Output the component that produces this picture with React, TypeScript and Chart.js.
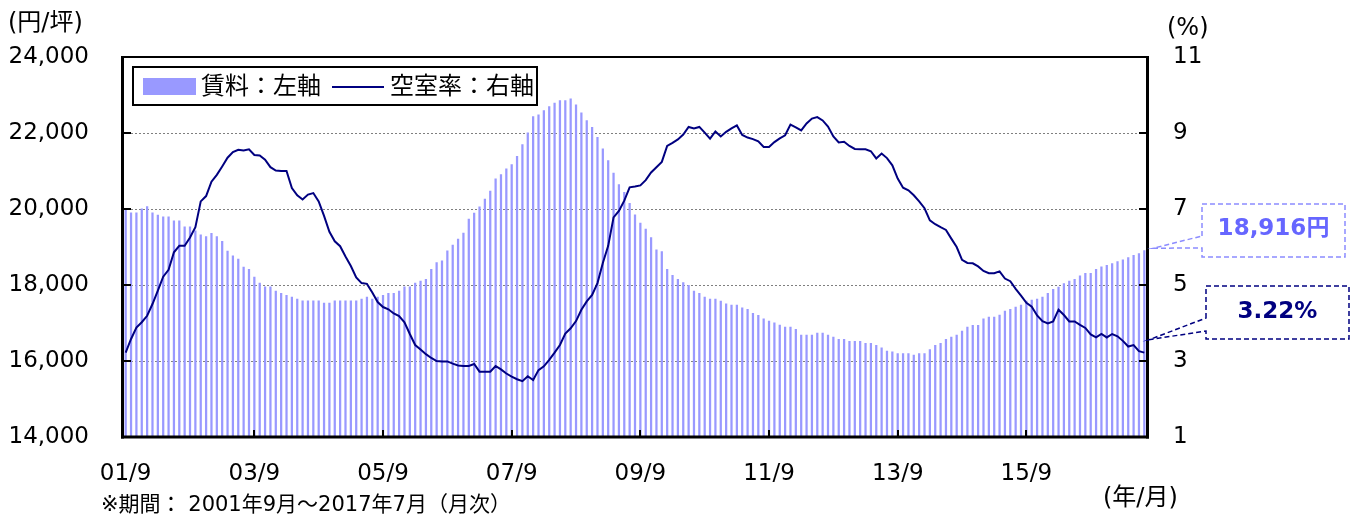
import React, { useEffect, useRef } from "react";
import { Chart, registerables } from "chart.js";

Chart.register(...registerables);

// ---- data (monthly, 2001/9 .. 2017/7) ----
const START_YEAR = 2001;
const START_MONTH = 9;

const rent: number[] = [
  19980, 19910, 19910, 20010, 20070, 19910, 19850, 19800, 19800, 19700,
  19700, 19540, 19540, 19435, 19330, 19280, 19370, 19280, 19160, 18900,
  18775, 18690, 18480, 18420, 18220, 18060, 17960, 17960, 17850, 17790,
  17740, 17690, 17640, 17590, 17590, 17590, 17590, 17530, 17530, 17590,
  17590, 17590, 17590, 17590, 17640, 17690, 17640, 17690, 17740, 17790,
  17790, 17850, 17960, 17960, 18060, 18115, 18160, 18423, 18600, 18643,
  18907, 19057, 19215, 19373, 19743, 19900, 20068, 20270, 20480, 20800,
  20912, 21063, 21176, 21396, 21704, 22012, 22443, 22487, 22601, 22707,
  22795, 22865, 22865, 22910, 22752, 22540, 22337, 22161, 21897, 21590,
  21282, 20957, 20649, 20446, 20155, 19857, 19637, 19479, 19258, 18933,
  18888, 18423, 18265, 18160, 18071, 18001, 17851, 17790, 17693, 17640,
  17640, 17587, 17516, 17482, 17482, 17411, 17368, 17262, 17210, 17120,
  17059, 17015, 16954, 16901, 16901, 16840, 16690, 16690, 16690, 16743,
  16743, 16690, 16637, 16576, 16576, 16524, 16524, 16524, 16471, 16471,
  16418, 16356, 16268, 16250, 16207, 16207, 16207, 16162, 16207, 16207,
  16312, 16418, 16471, 16576, 16637, 16690, 16795, 16901, 16946, 16946,
  17120, 17165, 17165, 17218, 17323, 17368, 17429, 17482, 17587, 17614,
  17640, 17693, 17790, 17896, 17957, 18045, 18115, 18160, 18247, 18318,
  18318, 18423, 18484, 18529, 18573, 18626, 18670, 18730, 18790, 18836,
  18916,
];

const vacancy: number[] = [
  3.22, 3.58, 3.88, 4.02, 4.19, 4.50, 4.85, 5.22, 5.40, 5.86,
  6.03, 6.03, 6.25, 6.52, 7.20, 7.34, 7.72, 7.90, 8.12, 8.35,
  8.50, 8.56, 8.54, 8.57, 8.42, 8.41, 8.30, 8.10, 8.01, 8.00,
  8.00, 7.55, 7.36, 7.25, 7.38, 7.42, 7.20, 6.82, 6.40, 6.15,
  6.02, 5.75, 5.50, 5.20, 5.05, 5.03, 4.80, 4.55, 4.42, 4.36,
  4.25, 4.18, 4.02, 3.71, 3.42, 3.30, 3.18, 3.08, 3.00, 2.99,
  2.99, 2.93, 2.88, 2.87, 2.87, 2.92, 2.72, 2.72, 2.72, 2.87,
  2.78, 2.67, 2.59, 2.52, 2.47, 2.60, 2.50, 2.76, 2.86, 3.03,
  3.22, 3.42, 3.72, 3.86, 4.05, 4.35, 4.57, 4.74, 5.05, 5.58,
  6.03, 6.78, 6.95, 7.22, 7.57, 7.59, 7.62, 7.76, 7.96, 8.10,
  8.24, 8.66, 8.74, 8.83, 8.96, 9.16, 9.12, 9.16, 9.01, 8.85,
  9.04, 8.91, 9.03, 9.12, 9.20, 8.95, 8.88, 8.84, 8.78, 8.63,
  8.63, 8.76, 8.86, 8.94, 9.22, 9.15, 9.07, 9.25, 9.38, 9.42,
  9.33, 9.17, 8.91, 8.75, 8.77, 8.66, 8.58, 8.57, 8.57, 8.52,
  8.33, 8.46, 8.34, 8.15, 7.80, 7.56, 7.49, 7.36, 7.20, 7.02,
  6.70, 6.60, 6.52, 6.45, 6.22, 6.00, 5.66, 5.58, 5.57, 5.49,
  5.37, 5.31, 5.31, 5.36, 5.17, 5.10, 4.90, 4.72, 4.53, 4.43,
  4.20, 4.05, 3.99, 4.04, 4.35, 4.21, 4.04, 4.04, 3.95, 3.87,
  3.70, 3.62, 3.71, 3.62, 3.71, 3.65, 3.53, 3.38, 3.42, 3.26,
  3.22,
];

const xTickLabels: string[] = ["01/9", "03/9", "05/9", "07/9", "09/9", "11/9", "13/9", "15/9"];

const rentLabel = "賃料：左軸";
const vacancyLabel = "空室率：右軸";
const leftUnit = "(円/坪)";
const rightUnit = "(%)";
const xUnit = "(年/月)";
const footnote = "※期間： 2001年9月～2017年7月（月次）";
const rentCallout = "18,916円";
const vacancyCallout = "3.22%";

const months: string[] = rent.map((_, i) => {
  const m = START_MONTH - 1 + i;
  const y = START_YEAR + Math.floor(m / 12);
  return `${String(y % 100).padStart(2, "0")}/${(m % 12) + 1}`;
});

const FONT = '"DejaVu Sans", "Noto Sans CJK JP", sans-serif';
const BAR_COLOR = "#9999ff";
const LINE_COLOR = "#000080";

function line(ctx: CanvasRenderingContext2D, x1: number, y1: number, x2: number, y2: number) {
  ctx.beginPath();
  ctx.moveTo(x1, y1);
  ctx.lineTo(x2, y2);
  ctx.stroke();
}

function callout(
  ctx: CanvasRenderingContext2D,
  box: { l: number; t: number; r: number; b: number },
  wedgeTop: number,
  wedgeBottom: number,
  ax: number,
  ay: number,
  stroke: string
) {
  ctx.save();
  ctx.strokeStyle = stroke;
  ctx.lineWidth = 1.5;
  ctx.setLineDash([5, 3]);
  ctx.beginPath();
  ctx.moveTo(box.l, wedgeTop);
  ctx.lineTo(box.l, box.t);
  ctx.lineTo(box.r, box.t);
  ctx.lineTo(box.r, box.b);
  ctx.lineTo(box.l, box.b);
  ctx.lineTo(box.l, wedgeBottom);
  ctx.lineTo(ax, ay);
  ctx.closePath();
  ctx.stroke();
  ctx.restore();
}

const decorPlugin = {
  id: "decor",
  afterDatasetsDraw(chart: any) {
    const { ctx, chartArea: a, scales } = chart;
    ctx.save();
    ctx.strokeStyle = "#000";
    ctx.lineWidth = 2;
    const yL = scales.y;
    yL.ticks.forEach((t: any) => {
      if (t.value > yL.min && t.value < yL.max) {
        const py = yL.getPixelForValue(t.value);
        line(ctx, a.left, py, a.left + 8, py);
      }
    });
    const yR = scales.y1;
    yR.ticks.forEach((t: any) => {
      if (t.value > yR.min && t.value < yR.max) {
        const py = yR.getPixelForValue(t.value);
        line(ctx, a.right - 8, py, a.right, py);
      }
    });
    const xs = scales.x;
    months.forEach((m, i) => {
      if (i > 0 && xTickLabels.includes(m)) {
        const px = Math.round(xs.getPixelForValue(i));
        line(ctx, px, a.bottom, px, a.bottom - 7);
      }
    });
    // frame
    ctx.lineWidth = 3;
    line(ctx, a.left - 0.5, a.top - 1, a.left - 0.5, a.bottom + 1.5);
    line(ctx, a.right + 0.5, a.top - 1, a.right + 0.5, a.bottom + 1.5);
    line(ctx, a.left - 2, a.bottom, a.right + 2, a.bottom);
    ctx.lineWidth = 2;
    line(ctx, a.left - 2, a.top, a.right + 2, a.top);
    ctx.restore();
  },
  afterDraw(chart: any) {
    const { ctx, scales } = chart;
    ctx.save();
    // legend
    ctx.fillStyle = "#fff";
    ctx.fillRect(133, 67, 404, 38);
    ctx.strokeStyle = "#000";
    ctx.lineWidth = 2;
    ctx.strokeRect(133, 67, 404, 38);
    ctx.fillStyle = BAR_COLOR;
    ctx.fillRect(143, 78, 53, 17);
    ctx.strokeStyle = LINE_COLOR;
    ctx.lineWidth = 2;
    line(ctx, 332, 87, 384, 87);
    ctx.fillStyle = "#000";
    ctx.font = `24px ${FONT}`;
    ctx.textBaseline = "middle";
    ctx.textAlign = "left";
    ctx.fillText(rentLabel, 201, 88);
    ctx.fillText(vacancyLabel, 390, 88);

    // unit labels
    ctx.font = `24px ${FONT}`;
    ctx.fillText(leftUnit, 8, 24);
    ctx.fillText(rightUnit, 1167, 29);
    ctx.fillText(xUnit, 1103, 499);
    ctx.font = `21px ${FONT}`;
    ctx.fillText(footnote, 101, 506);

    // callouts
    const last = rent.length - 1;
    const ax = scales.x.getPixelForValue(last);
    const rentY = scales.y.getPixelForValue(rent[last]);
    const vacY = scales.y1.getPixelForValue(vacancy[last]);
    callout(ctx, { l: 1202, t: 204, r: 1345, b: 257 }, 236, 248, ax + 9, rentY - 2, "#8c8cff");
    callout(ctx, { l: 1206, t: 286, r: 1349, b: 339 }, 318, 331, ax + 5, vacY - 13, LINE_COLOR);
    ctx.font = `bold 23px ${FONT}`;
    ctx.textAlign = "center";
    ctx.fillStyle = "#6666ff";
    ctx.fillText(rentCallout, 1273.5, 229);
    ctx.fillStyle = LINE_COLOR;
    ctx.fillText(vacancyCallout, 1277.5, 312);
    ctx.restore();
  },
};

export default function App() {
  const ref = useRef<HTMLCanvasElement | null>(null);
  useEffect(() => {
    if (!ref.current) return;
    const tickFont = { family: FONT, size: 23 };
    const chart = new Chart(ref.current, {
      type: "bar",
      data: {
        labels: months,
        datasets: [
          {
            type: "line",
            label: vacancyLabel,
            data: vacancy,
            yAxisID: "y1",
            borderColor: LINE_COLOR,
            borderWidth: 2,
            pointRadius: 0,
            tension: 0,
            order: 0,
          } as any,
          {
            type: "bar",
            label: rentLabel,
            data: rent,
            yAxisID: "y",
            backgroundColor: BAR_COLOR,
            borderWidth: 0,
            barPercentage: 0.42,
            categoryPercentage: 1,
            order: 1,
          },
        ],
      },
      options: {
        responsive: false,
        animation: false,
        devicePixelRatio: 1,
        layout: { padding: { top: 57, left: 0, right: 0, bottom: 0 } },
        plugins: { legend: { display: false }, tooltip: { enabled: false } },
        scales: {
          x: {
            type: "category",
            offset: true,
            grid: { display: false, drawTicks: false },
            border: { display: false },
            ticks: {
              autoSkip: false,
              maxRotation: 0,
              minRotation: 0,
              padding: 23,
              color: "#000",
              font: tickFont,
              callback: (_v: any, i: number) => (xTickLabels.includes(months[i]) ? months[i] : ""),
            },
            afterFit: (s: any) => {
              s.height = 83;
            },
          },
          y: {
            position: "left",
            min: 14000,
            max: 24000,
            ticks: {
              stepSize: 2000,
              padding: 34,
              color: "#000",
              font: tickFont,
              callback: (v: any) => Number(v).toLocaleString("en-US"),
            },
            grid: {
              drawTicks: false,
              lineWidth: 1,
              color: (c: any) =>
                c.tick && (c.tick.value === 14000 || c.tick.value === 24000) ? "rgba(0,0,0,0)" : "#7f7f7f",
            },
            border: { display: false, dash: [2, 2] },
            afterFit: (s: any) => {
              s.width = 123;
            },
          },
          y1: {
            position: "right",
            min: 1,
            max: 11,
            ticks: { stepSize: 2, padding: 26, color: "#000", font: tickFont },
            grid: { drawOnChartArea: false, drawTicks: false },
            border: { display: false },
            afterFit: (s: any) => {
              s.width = 213;
            },
          },
        },
      } as any,
      plugins: [decorPlugin],
    });
    return () => chart.destroy();
  }, []);
  return (
    <div style={{ position: "absolute", left: 0, top: 0, width: 1360, height: 520, background: "#fff" }}>
      <canvas ref={ref} width={1360} height={520} style={{ display: "block" }} />
    </div>
  );
}
